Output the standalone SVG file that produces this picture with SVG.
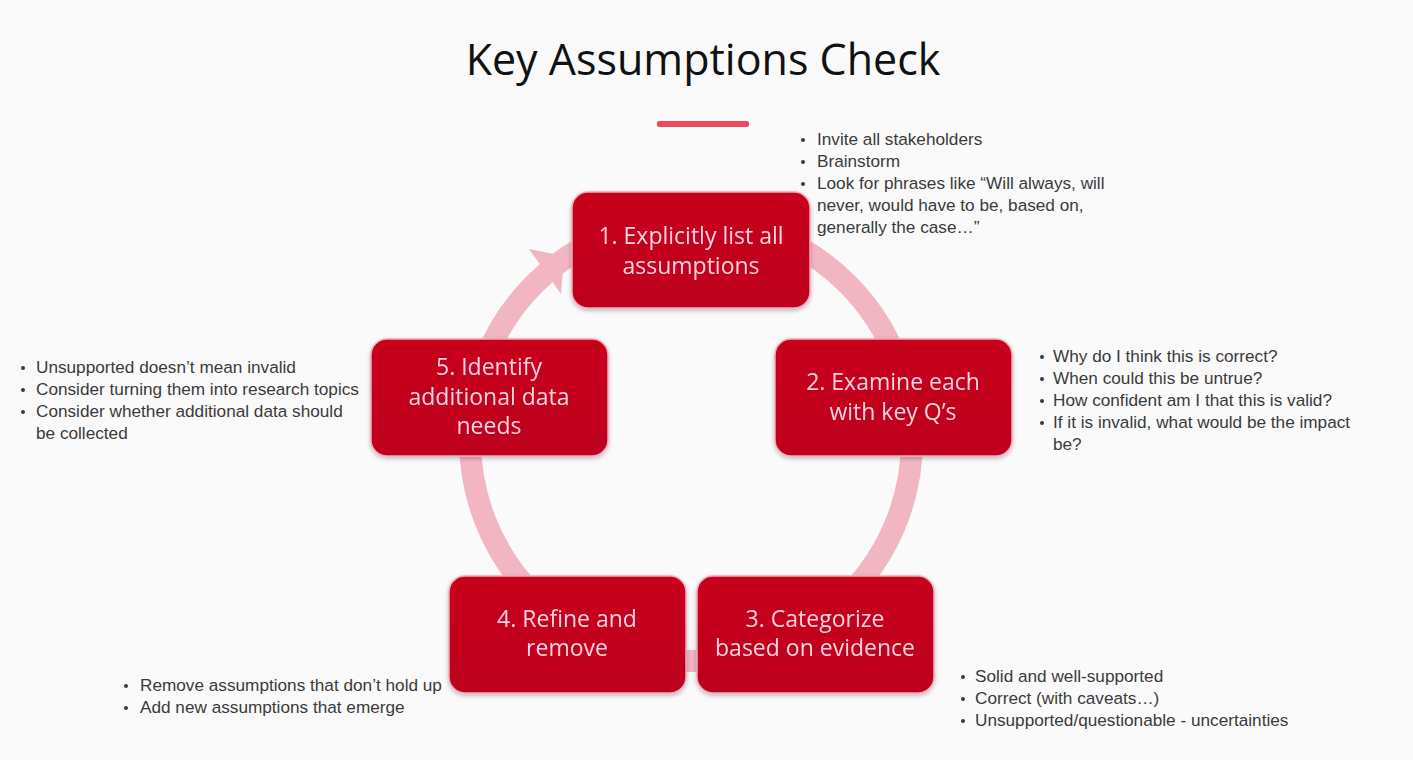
<svg xmlns="http://www.w3.org/2000/svg" width="1413" height="760" viewBox="0 0 1413 760">
  <style>
    .title { font-family: "Open Sans", "Noto Sans", sans-serif; font-size: 43px; fill: #111; }
    .step { fill: url(#boxFill); stroke: #f4a8bc; stroke-width: 1.5; }
    .label { font-family: "Open Sans", "Lato", sans-serif; font-size: 23px; fill: #fbd3e2; text-anchor: middle; }
    .note { font-family: "Liberation Sans", Arial, sans-serif; font-size: 17.2px; fill: #3a3a3a; }
    .dot { fill: #3a3a3a; }
  </style>
  <defs>
    <linearGradient id="boxFill" x1="0" y1="0" x2="0" y2="1">
      <stop offset="0" stop-color="#c8001f"/>
      <stop offset="1" stop-color="#bd001b"/>
    </linearGradient>
    <filter id="shadow" x="-10%" y="-10%" width="120%" height="125%">
      <feDropShadow dx="0" dy="2" stdDeviation="2" flood-color="#000" flood-opacity="0.25"/>
    </filter>
  </defs>

  <rect width="1413" height="760" fill="#fafafa"/>

  <!-- title -->
  <text class="title" x="703" y="75" text-anchor="middle">Key Assumptions Check</text>
  <rect x="657" y="121" width="92" height="6" rx="2" fill="#f0485c"/>

  <!-- cycle ring with arrowhead -->
  <g id="connectors">
    <circle cx="691" cy="440" r="221" fill="none" stroke="#f2b6c3" stroke-width="22"/>
    <polygon points="529,249 564,256 561,294" fill="#f2b6c3"/>
  </g>

  <g id="step1" filter="url(#shadow)">
    <rect class="step" x="572" y="192" width="238" height="116" rx="16"/>
    <text class="label" x="691" y="244">1. Explicitly list all</text>
    <text class="label" x="691" y="274">assumptions</text>
  </g>

  <g id="step2" filter="url(#shadow)">
    <rect class="step" x="775" y="339" width="237" height="117" rx="16"/>
    <text class="label" x="893" y="390">2. Examine each</text>
    <text class="label" x="893" y="420">with key Q’s</text>
  </g>

  <g id="step3" filter="url(#shadow)">
    <rect class="step" x="697" y="576" width="237" height="117" rx="16"/>
    <text class="label" x="815" y="627">3. Categorize</text>
    <text class="label" x="815" y="656">based on evidence</text>
  </g>

  <g id="step4" filter="url(#shadow)">
    <rect class="step" x="449" y="576" width="237" height="117" rx="16"/>
    <text class="label" x="567" y="627">4. Refine and</text>
    <text class="label" x="567" y="656">remove</text>
  </g>

  <g id="step5" filter="url(#shadow)">
    <rect class="step" x="371" y="339" width="237" height="117" rx="16"/>
    <text class="label" x="489" y="375">5. Identify</text>
    <text class="label" x="489" y="405">additional data</text>
    <text class="label" x="489" y="434">needs</text>
  </g>

  <!-- notes beside each step -->
  <g id="notes1">
    <circle class="dot" cx="803" cy="140" r="2"/>
    <circle class="dot" cx="803" cy="162" r="2"/>
    <circle class="dot" cx="803" cy="184" r="2"/>
    <text class="note" x="817" y="145">Invite all stakeholders</text>
    <text class="note" x="817" y="167">Brainstorm</text>
    <text class="note" x="817" y="189">Look for phrases like “Will always, will</text>
    <text class="note" x="817" y="211">never, would have to be, based on,</text>
    <text class="note" x="817" y="233">generally the case…”</text>
  </g>

  <g id="notes2">
    <circle class="dot" cx="1042" cy="357" r="2"/>
    <circle class="dot" cx="1042" cy="379" r="2"/>
    <circle class="dot" cx="1042" cy="401" r="2"/>
    <circle class="dot" cx="1042" cy="423" r="2"/>
    <text class="note" x="1053" y="362">Why do I think this is correct?</text>
    <text class="note" x="1053" y="384">When could this be untrue?</text>
    <text class="note" x="1053" y="406">How confident am I that this is valid?</text>
    <text class="note" x="1053" y="428">If it is invalid, what would be the impact</text>
    <text class="note" x="1053" y="450">be?</text>
  </g>

  <g id="notes3">
    <circle class="dot" cx="963" cy="677" r="2"/>
    <circle class="dot" cx="963" cy="699" r="2"/>
    <circle class="dot" cx="963" cy="721" r="2"/>
    <text class="note" x="975" y="682">Solid and well-supported</text>
    <text class="note" x="975" y="704">Correct (with caveats…)</text>
    <text class="note" x="975" y="726">Unsupported/questionable - uncertainties</text>
  </g>

  <g id="notes4">
    <circle class="dot" cx="126" cy="686" r="2"/>
    <circle class="dot" cx="126" cy="708" r="2"/>
    <text class="note" x="140" y="691">Remove assumptions that don’t hold up</text>
    <text class="note" x="140" y="713">Add new assumptions that emerge</text>
  </g>

  <g id="notes5">
    <circle class="dot" cx="23" cy="368" r="2"/>
    <circle class="dot" cx="23" cy="390" r="2"/>
    <circle class="dot" cx="23" cy="412" r="2"/>
    <text class="note" x="36" y="373">Unsupported doesn’t mean invalid</text>
    <text class="note" x="36" y="395">Consider turning them into research topics</text>
    <text class="note" x="36" y="417">Consider whether additional data should</text>
    <text class="note" x="36" y="439">be collected</text>
  </g>
</svg>
